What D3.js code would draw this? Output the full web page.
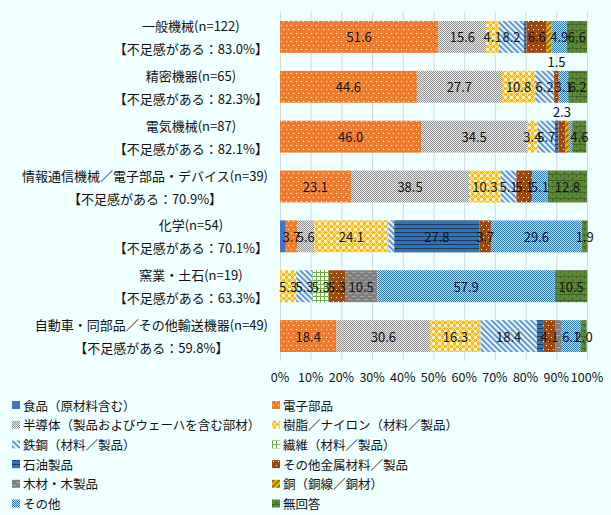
<!DOCTYPE html>
<html>
<head>
<meta charset="utf-8">
<script src="https://cdn.jsdelivr.net/npm/d3@7"></script>
<style>
  body { margin: 0; background: #f0ffff; }
  svg { display: block; font-family: "Noto Sans CJK JP", "Noto Sans", sans-serif; }
</style>
</head>
<body>
<div id="chart"></div>
<script>
const W = 611, H = 515

const categories = ["一般機械(n=122)", "精密機器(n=65)", "電気機械(n=87)", "情報通信機械／電子部品・デバイス(n=39)", "化学(n=54)", "窯業・土石(n=19)", "自動車・同部品／その他輸送機器(n=49)"]
const notes = ["【不足感がある：83.0%】", "【不足感がある：82.3%】", "【不足感がある：82.1%】", "【不足感がある：70.9%】", "【不足感がある：70.1%】", "【不足感がある：63.3%】", "【不足感がある：59.8%】"]

const seriesNames = ["食品（原材料含む）", "電子部品", "半導体（製品およびウェーハを含む部材）", "樹脂／ナイロン（材料／製品）", "鉄鋼（材料／製品）", "繊維（材料／製品）", "石油製品", "その他金属材料／製品", "木材・木製品", "銅（銅線／銅材）", "その他", "無回答"]

// one array per series, in category order
const food       = [0, 0, 0, 0, 1.9, 0, 0]
const electronic = [51.6, 44.6, 46.0, 23.1, 3.7, 0, 18.4]
const semicon    = [15.6, 27.7, 34.5, 38.5, 5.6, 0, 30.6]
const resin      = [4.1, 10.8, 3.4, 10.3, 24.1, 5.3, 16.3]
const steel      = [8.2, 6.2, 5.7, 5.1, 1.9, 5.3, 18.4]
const fiber      = [0, 0, 0, 0, 0, 5.3, 0]
const oil        = [0.8, 0, 1.1, 0, 27.8, 0, 2.0]
const otherMetal = [6.6, 1.5, 2.3, 5.1, 3.7, 5.3, 4.1]
const wood       = [0, 0, 0, 0, 0, 10.5, 2.0]
const copper     = [1.6, 0, 1.1, 0, 0, 0, 0]
const other      = [4.9, 3.1, 1.1, 5.1, 29.6, 57.9, 6.1]
const noAnswer   = [6.6, 6.2, 4.6, 12.8, 1.9, 10.5, 2.0]

const seriesValues = [food, electronic, semicon, resin, steel, fiber, oil, otherMetal, wood, copper, other, noAnswer]
const xTicks = [0, 10, 20, 30, 40, 50, 60, 70, 80, 90, 100]

const svg = d3.select("#chart").append("svg")
    .attr("width", W)
    .attr("height", H)

svg.append("rect").attr("width", W).attr("height", H).attr("fill", "#f0ffff")

const defs = svg.append("defs")

//helper for the excel-like pattern fills
function addPattern(id, w, h, bg, draw, transform) {
    const p = defs.append("pattern")
        .attr("id", id)
        .attr("patternUnits", "userSpaceOnUse")
        .attr("width", w)
        .attr("height", h)
    if (transform) p.attr("patternTransform", transform)
    p.append("rect").attr("width", w).attr("height", h).attr("fill", bg)
    if (draw) draw(p)
}
function dots(p, pts, color) {
    pts.forEach(([x, y]) => p.append("rect").attr("x", x).attr("y", y).attr("width", 1).attr("height", 1).attr("fill", color))
}
function rects(p, list, color) {
    list.forEach(([x, y, w, h]) => p.append("rect").attr("x", x).attr("y", y).attr("width", w).attr("height", h).attr("fill", color))
}

addPattern("p0", 4, 4, "#4472c4")
addPattern("p1", 10, 8, "#ed7d31", p => dots(p, [[1, 1], [6, 1], [3, 5], [8, 5]], "#ffffff"))
addPattern("p2", 2, 2, "#ececec", p => dots(p, [[0, 0], [1, 1]], "#8f8f8f"))
addPattern("p3", 6, 6, "#ffc000", p => {
    rects(p, [[0, 0, 3, 3]], "#fff2cc")
    dots(p, [[3, 3], [5, 3], [4, 4], [3, 5], [5, 5]], "#fff2cc")
})
addPattern("p4", 4, 4, "#ffffff", p => rects(p, [[0, 0, 2.2, 4]], "#5b9bd5"), "rotate(-45)")
addPattern("p5", 4, 4, "#ffffff", p => rects(p, [[0, 0, 4, 1], [0, 0, 1, 4]], "#70ad47"))
addPattern("p6", 4, 4, "#2e75b6", p => rects(p, [[0, 0, 4, 1]], "#1f3864"))
addPattern("p7", 10, 8, "#9e480e", p => dots(p, [[1, 1], [6, 1], [3, 5], [8, 5]], "#ffffff"))
addPattern("p8", 8, 6, "#7f7f7f", p => rects(p, [[0, 2, 4, 1], [4, 5, 4, 1]], "#a6a6a6"))
addPattern("p9", 4, 4, "#ffc000", p => rects(p, [[0, 0, 2.2, 4]], "#997300"), "rotate(45)")
addPattern("p10", 2, 2, "#c5dbf0", p => dots(p, [[0, 0], [1, 1]], "#2e75b6"))
addPattern("p11", 8, 6, "#5a8a35", p => {
    rects(p, [[0, 0, 8, 1], [0, 0, 1, 3], [4, 3, 1, 3]], "#3f6622")
})

const x = d3.scaleLinear().domain([0, 100]).range([280, 587])
const y = d3.scaleBand().domain(categories).range([12, 361]).paddingInner(0.36).paddingOuter(0.18)

// gridlines
svg.append("g")
    .selectAll("line")
    .data(xTicks)
    .join("line")
    .attr("x1", d => x(d) + 0.5)
    .attr("x2", d => x(d) + 0.5)
    .attr("y1", 12)
    .attr("y2", 361)
    .attr("stroke", "#d9d9d9")
    .attr("stroke-width", 1)

// stacked segments
const segs = []
categories.forEach((c, ci) => {
    let acc = 0
    seriesValues.forEach((vals, si) => {
        const v = vals[ci]
        if (v > 0) segs.push({ c, ci, si, v, x0: acc, x1: acc + v })
        acc += v
    })
})

svg.append("g")
    .selectAll("rect")
    .data(segs)
    .join("rect")
    .attr("x", d => x(d.x0))
    .attr("width", d => x(d.x1) - x(d.x0))
    .attr("y", d => y(d.c))
    .attr("height", y.bandwidth())
    .attr("fill", d => `url(#p${d.si})`)

// value labels: small ones hidden, small "other metal" ones drawn above the bar
const lastSeries = seriesValues.length - 1
svg.append("g")
    .selectAll("text")
    .data(segs.filter(d => d.v >= 2.4 || d.si === lastSeries || d.si === 7))
    .join("text")
    .attr("x", d => x((d.x0 + d.x1) / 2))
    .attr("y", d => (d.v < 2.4 && d.si === 7) ? y(d.c) - 9 : y(d.c) + y.bandwidth() / 2)
    .attr("text-anchor", "middle")
    .attr("dominant-baseline", "central")
    .attr("font-size", 13)
    .attr("fill", "#111")
    .text(d => d.v.toFixed(1))

// x tick labels
svg.append("g")
    .selectAll("text")
    .data(xTicks)
    .join("text")
    .attr("x", d => x(d))
    .attr("y", 376)
    .attr("text-anchor", "middle")
    .attr("dominant-baseline", "central")
    .attr("font-size", 12.5)
    .attr("fill", "#111")
    .text(d => d + "%")

// category labels, two centred lines in a right-aligned block
const catG = svg.append("g")
categories.forEach((c, i) => {
    const cy = y(c) + y.bandwidth() / 2
    const lines = [c, notes[i]].map((s, k) => catG.append("text")
        .attr("y", cy + (k === 0 ? -11.5 : 11.5))
        .attr("text-anchor", "middle")
        .attr("dominant-baseline", "central")
        .attr("font-size", 13)
        .attr("fill", "#111")
        .text(s))
    const wmax = d3.max(lines, t => t.node().getComputedTextLength())
    lines.forEach(t => t.attr("x", 268 - wmax / 2))
})

// legend
const legend = svg.append("g")
seriesNames.forEach((name, i) => {
    const col = i % 2, row = Math.floor(i / 2)
    const lx = col === 0 ? 12 : 272
    const ly = 405 + row * 19.7
    legend.append("rect")
        .attr("x", lx)
        .attr("y", ly - 4)
        .attr("width", 8)
        .attr("height", 8)
        .attr("fill", `url(#p${i})`)
    legend.append("text")
        .attr("x", lx + 11)
        .attr("y", ly)
        .attr("dominant-baseline", "central")
        .attr("font-size", 12.5)
        .attr("fill", "#111")
        .text(name)
})
</script>
</body>
</html>
